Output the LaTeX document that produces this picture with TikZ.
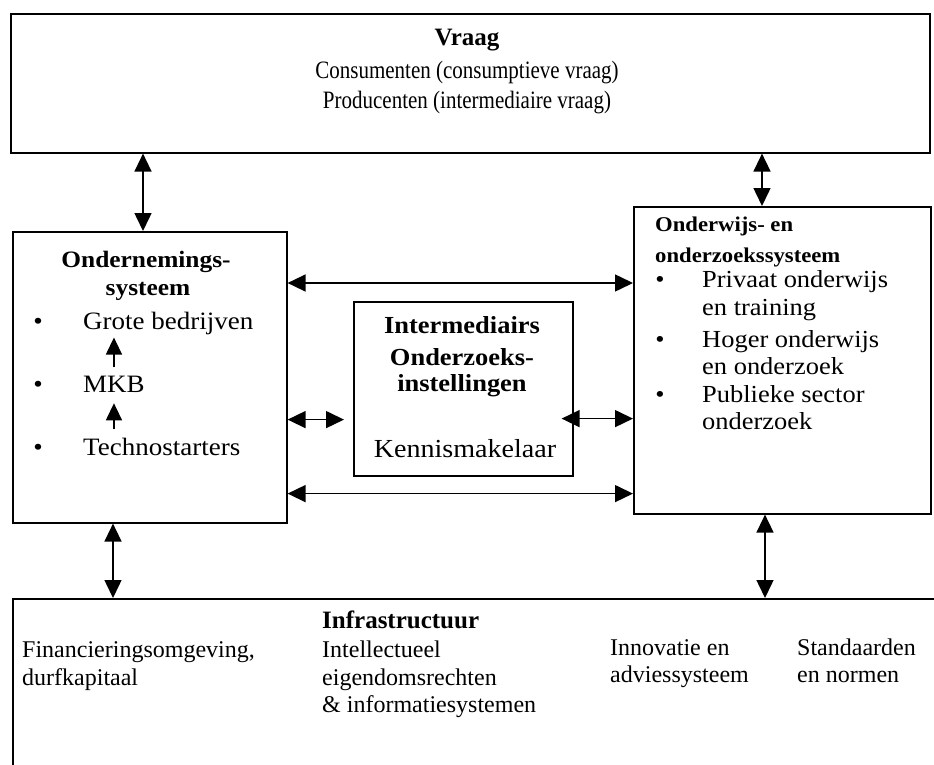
\documentclass[tikz,border=0pt]{standalone}
\usepackage{fontspec}
\setmainfont{Liberation Serif}
\newfontfamily\widefont[FakeStretch=1.08]{Liberation Serif}
\newfontfamily\narrowfont[FakeStretch=0.84]{Liberation Serif}
\usetikzlibrary{arrows.meta,calc}
\newcommand\fsz[1]{\fontsize{#1}{#1}\selectfont}
\begin{document}
\begin{tikzpicture}[x=1pt,y=-1pt,
  box/.style={draw,line width=1.6pt,inner sep=0pt,anchor=north west},
  conn/.style={line width=1.5pt,{Triangle[length=18pt,width=17pt]}-{Triangle[length=18pt,width=17pt]}},
  smallarr/.style={line width=1.4pt,-{Triangle[length=17pt,width=16pt]}},
  txt/.style={inner sep=0pt,anchor=base west},
  ctxt/.style={inner sep=0pt,anchor=base},
  topf/.style={font=\narrowfont\fsz{25}},
  lboxf/.style={font=\widefont\fsz{25}},
  rboxf/.style={font=\widefont\fsz{24.5}},
  botf/.style={font=\fsz{24}},
]
\useasboundingbox (0,0) rectangle (934,765);

% boxes
\node[box,minimum width=919pt,minimum height=139pt] (vraag) at (10,13) {};
\node[box,minimum width=274pt,minimum height=291pt] (onder) at (12,231) {};
\node[box,minimum width=297pt,minimum height=307pt] (onderw) at (633,206) {};
\node[box,minimum width=219pt,minimum height=174pt] (inter) at (353,301) {};
\node[box,minimum width=960pt,minimum height=220pt] (infra) at (12,598) {};

% top box text
\node[ctxt,font=\bfseries\fsz{25}] (vq) at (467,46) {Vraag};
\node[ctxt,topf] (cons) at (467,79) {Consumenten (consumptieve vraag)};
\node[ctxt,topf] (prod) at (467,109) {Producenten (intermediaire vraag)};

% left box text
\node[ctxt,font=\widefont\bfseries\fsz{23.5}] (oh1) at (146,267) {Ondernemings-};
\node[ctxt,font=\widefont\bfseries\fsz{23.5}] (oh2) at (148,295) {systeem};
\node[ctxt,lboxf] (lb1) at (38,329) {•};
\node[ctxt,lboxf] (lb2) at (38,392) {•};
\node[ctxt,lboxf] (lb3) at (38,455) {•};
\node[txt,lboxf] (grote) at (83,329) {Grote bedrijven};
\node[txt,lboxf] (mkb) at (83,392) {MKB};
\node[txt,lboxf] (techno) at (83,455) {Technostarters};
\draw[smallarr] ($(mkb.center |- techno.north)+(0,-8)$) -- ($(mkb.south)+(0,11)$);
\draw[smallarr] ($(mkb.north)+(0,-8)$) -- ($(mkb.center |- grote.south)+(0,3)$);

% middle box text
\node[ctxt,font=\widefont\bfseries\fsz{24.5}] (im1) at (462,333) {Intermediairs};
\node[ctxt,font=\widefont\bfseries\fsz{24.5}] (im2) at (462,365) {Onderzoeks-};
\node[ctxt,font=\widefont\bfseries\fsz{24.5}] (im3) at (462,391) {instellingen};
\node[ctxt,font=\widefont\fsz{26}] (km) at (465,457) {Kennismakelaar};

% right box text
\node[txt,font=\widefont\bfseries\fsz{21}] (ow1) at (655,231) {Onderwijs- en};
\node[txt,font=\widefont\bfseries\fsz{21}] (ow2) at (655,262) {onderzoekssysteem};
\node[ctxt,rboxf] (rb1) at (660,287) {•};
\node[ctxt,rboxf] (rb2) at (660,347) {•};
\node[ctxt,rboxf] (rb3) at (660,402) {•};
\node[txt,rboxf] (pr1) at (702,287) {Privaat onderwijs};
\node[txt,rboxf] (pr2) at (702,315) {en training};
\node[txt,rboxf] (ho1) at (702,347) {Hoger onderwijs};
\node[txt,rboxf] (ho2) at (702,374) {en onderzoek};
\node[txt,rboxf] (pu1) at (702,402) {Publieke sector};
\node[txt,rboxf] (pu2) at (702,429) {onderzoek};

% bottom box text
\node[txt,font=\bfseries\fsz{25}] (inf) at (322,628) {Infrastructuur};
\node[txt,botf] (fin1) at (22,657) {Financieringsomgeving,};
\node[txt,botf] (fin2) at (22,685) {durfkapitaal};
\node[txt,botf] (ip1) at (322,657) {Intellectueel};
\node[txt,botf] (ip2) at (322,685) {eigendomsrechten};
\node[txt,botf] (ip3) at (322,712) {\& informatiesystemen};
\node[txt,botf] (inn1) at (610,655) {Innovatie en};
\node[txt,botf] (inn2) at (610,682) {adviessysteem};
\node[txt,botf] (std1) at (797,655) {Standaarden};
\node[txt,botf] (std2) at (797,682) {en normen};

% connectors
\coordinate (v1) at ($(onder.north west)+(131,0)$);
\draw[conn] (v1 |- vraag.south) -- (v1);
\coordinate (v2) at ($(onderw.north west)+(129,0)$);
\draw[conn] (v2 |- vraag.south) -- (v2);
\coordinate (v3) at ($(onder.south west)+(101,0)$);
\draw[conn] (v3) -- (v3 |- infra.north);
\coordinate (v4) at ($(onderw.south west)+(132,0)$);
\draw[conn] (v4) -- (v4 |- infra.north);

\coordinate (h1) at ($(onder.north east)+(0,52)$);
\draw[conn] (h1) -- (h1 -| onderw.west);
\coordinate (h2) at ($(inter.south west)+(0,-57)$);
\draw[conn,shorten >=9pt] (h2 -| onder.east) -- (h2);
\coordinate (h3) at ($(inter.south east)+(0,-58)$);
\draw[conn,shorten <=-12pt] (h3) -- (h3 -| onderw.west);
\coordinate (h4) at ($(onder.south east)+(0,-30)$);
\draw[conn] (h4) -- (h4 -| onderw.west);
\end{tikzpicture}
\end{document}
